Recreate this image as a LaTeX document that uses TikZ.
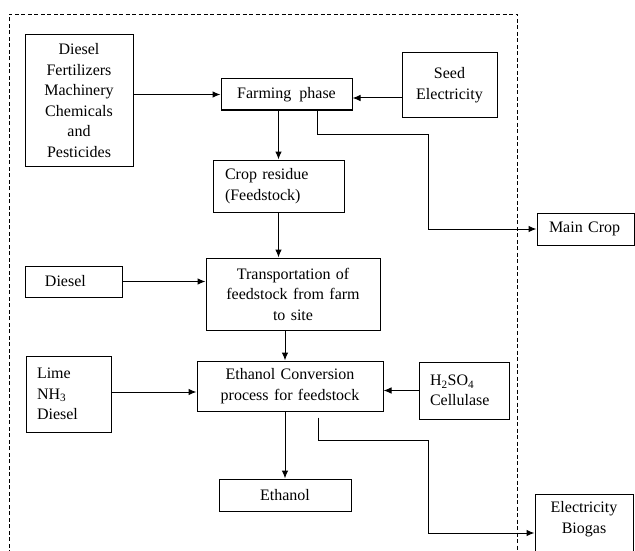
\documentclass[tikz,border=0pt]{standalone}
\usepackage{fontspec}
\setmainfont{Liberation Serif}
\usetikzlibrary{arrows.meta}

\tikzset{
    box/.style={draw, line width=1pt, inner ysep=0pt, inner xsep=0pt,
        align=center, font=\fontsize{16}{20.5}\selectfont},
    lbox/.style={box, align=left, inner xsep=#1},
    arr/.style={line width=1pt, -{Latex[length=8pt,width=6.5pt]}},
    frame/.style={line width=0.9pt, dash pattern=on 4pt off 2.5pt}
}

\begin{document}
\begin{tikzpicture}[x=1pt, y=-1pt]
    \path[use as bounding box] (0,0) rectangle (635,551);
    \clip (0,0) rectangle (635,551);

    % Dashed system boundary
    \draw[frame] (9,580) -- (9,14) -- (517,14) -- (517,580);

    % Boxes of the main chain
    \node[box, minimum width=131pt, minimum height=31pt] (farm) at (286.5,94.5) {Farming~ phase};
    \node[lbox=12pt, text width=107pt, minimum height=52pt] (crop) at (278.5,186) {Crop residue\\(Feedstock)};
    \node[box, text width=174pt, minimum height=72pt] (trans) at (293,294) {Transportation of\\feedstock from farm\\to site};
    \node[box, text width=186pt, minimum height=50pt] (conv) at (290,386) {Ethanol Conversion\\process for feedstock};
    \node[box, minimum width=132pt, minimum height=32pt] (ethanol) at (285,495) {Ethanol};

    % Input boxes
    \node[box, text width=108pt, minimum height=131pt] (inputs) at (79,100.5) {Diesel\\Fertilizers\\Machinery\\Chemicals\\and\\Pesticides};
    \node[box, text width=95pt, minimum height=64pt] (seed) at (449.5,85) {Seed\\Electricity};
    \node[lbox=20pt, text width=57pt, minimum height=31pt] (diesel) at (73.5,281.5) {Diesel};
    \node[lbox=11pt, text width=63pt, minimum height=76pt] (lime) at (68.5,394) {Lime\\NH\textsubscript{3}\\Diesel};
    \node[lbox=11pt, text width=68pt, minimum height=57pt] (acid) at (464,390.5) {H\textsubscript{2}SO\textsubscript{4}\\Cellulase};

    % Output boxes outside the boundary (the lower one runs off the page)
    \node[lbox=12pt, text width=73pt, minimum height=32pt] (maincrop) at (585.5,229) {Main Crop};
    \node[box, text width=98pt, inner ysep=7pt, anchor=north] (biogas) at (584,494) {Electricity\\Biogas\\\strut\\\strut\\\strut\\\strut};

    % Arrows along the chain
    \draw[arr] (farm.south -| crop.north) -- (crop.north);
    \draw[arr] (crop.south) -- (crop.south |- trans.north);
    \draw[arr] ([xshift=-8pt]trans.south) coordinate (t) -- (t |- conv.north);
    \draw[arr] (ethanol.north |- conv.south) -- (ethanol.north);

    % Arrows from the inputs
    \draw[arr] (inputs.east |- farm.west) -- (farm.west);
    \draw[arr] ([yshift=-13pt]seed.west) coordinate (s) -- (s -| farm.east);
    \draw[arr] (diesel.east) -- (diesel.east -| trans.west);
    \draw[arr] ([yshift=2pt]lime.east) coordinate (l) -- (l -| conv.west);
    \draw[arr] (acid.west) -- (acid.west -| conv.east);

    % Co-products leaving the boundary
    \draw[arr] ([xshift=30.5pt]farm.south) |- (428,134) |- (maincrop.west);
    \draw[arr] ([xshift=28pt,yshift=-6pt]conv.south) |- (428,440) |- (biogas.west |- 0,533);
\end{tikzpicture}
\end{document}
